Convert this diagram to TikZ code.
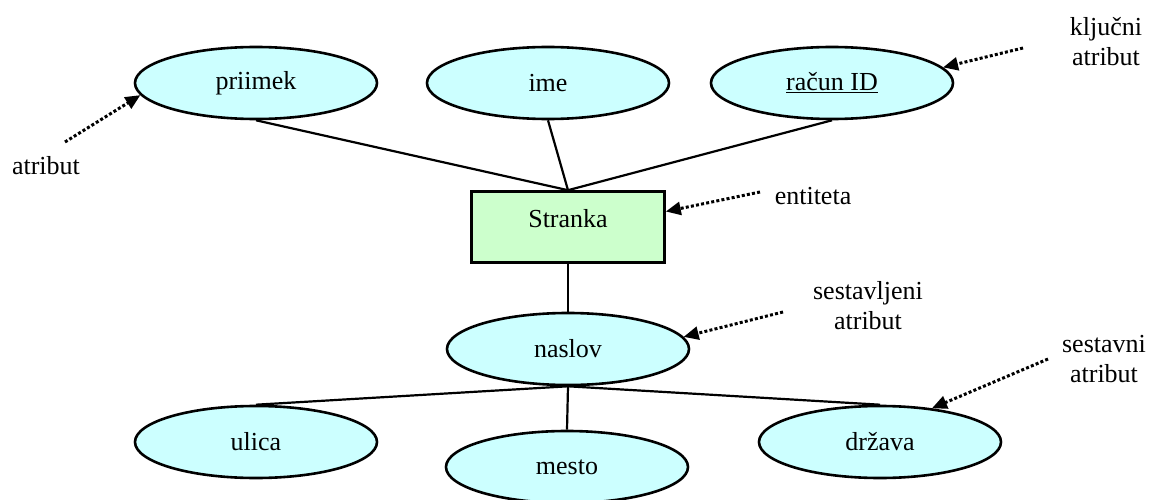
\documentclass[tikz,border=0pt]{standalone}
\usepackage{fontspec}
\setmainfont{Liberation Serif}
\usetikzlibrary{shapes.geometric,arrows.meta}
\definecolor{attrfill}{HTML}{CCFFFF}
\definecolor{entfill}{HTML}{CCFFCC}
\begin{document}
\begin{tikzpicture}[x=1pt,y=-1pt,
  every node/.style={font=\fontsize{26}{30}\selectfont},
  attr/.style={ellipse, draw, line width=2.6pt, fill=attrfill,
    minimum width=242pt, minimum height=72pt, inner sep=0pt},
  entity/.style={rectangle, draw, line width=2.6pt, fill=entfill,
    minimum width=193pt, minimum height=71pt, text height=18pt, text depth=18pt},
  link/.style={line width=2.2pt},
  pointer/.style={line width=3pt, dash pattern=on 3pt off 2.2pt,
    -{Triangle[length=15pt,width=13pt]}},
  note/.style={align=center, inner sep=0pt}]
\useasboundingbox (0,0) rectangle (1154,500);

% attributes of the entity
\node[attr] (priimek) at (256,83) {priimek};
\node[attr] (ime)     at (548,83) {ime};
\node[attr] (racun)   at (832,83) {\underline{račun ID}};

% the entity
\node[entity] (stranka) at (568,227) {Stranka};

% composite attribute and its parts
\node[attr] (naslov) at (568,349) {naslov};
\node[attr] (ulica)  at (256,442) {ulica};
\node[attr] (mesto)  at (567,467) {mesto};
\node[attr] (drzava) at (880,442) {država};

% connections
\draw[link] (priimek.south) -- (stranka.north);
\draw[link] (ime.south) -- (stranka.north);
\draw[link] (racun.south) -- (stranka.north);
\draw[link] (stranka.south) -- (naslov.north);
\draw[link] (naslov.south) -- (ulica.north);
\draw[link] (naslov.south) -- (mesto.north);
\draw[link] (naslov.south) -- (drzava.north);

% explanatory labels
\node[note] (lblAttr) at (46,166) {atribut};
\node[note] (lblKey)  at (1106,42) {ključni\\atribut};
\node[note] (lblEnt)  at (813,196) {entiteta};
\node[note] (lblComp) at (868,306) {sestavljeni\\atribut};
\node[note] (lblPart) at (1104,359) {sestavni\\atribut};

% pointer arrows
\coordinate (tAttr) at (65,142);
\coordinate (tKey)  at (1023,48);
\coordinate (tEnt)  at (760,192);
\coordinate (tComp) at (783,312);
\coordinate (tPart) at (1048,359);

\draw[pointer] (tAttr) -- (priimek.186);
\draw[pointer] (tKey)  -- (racun.8);
\draw[pointer] (tEnt)  -- (stranka.9);
\draw[pointer] (tComp) -- (naslov.6);
\draw[pointer] (tPart) -- (drzava.33);
\end{tikzpicture}
\end{document}
